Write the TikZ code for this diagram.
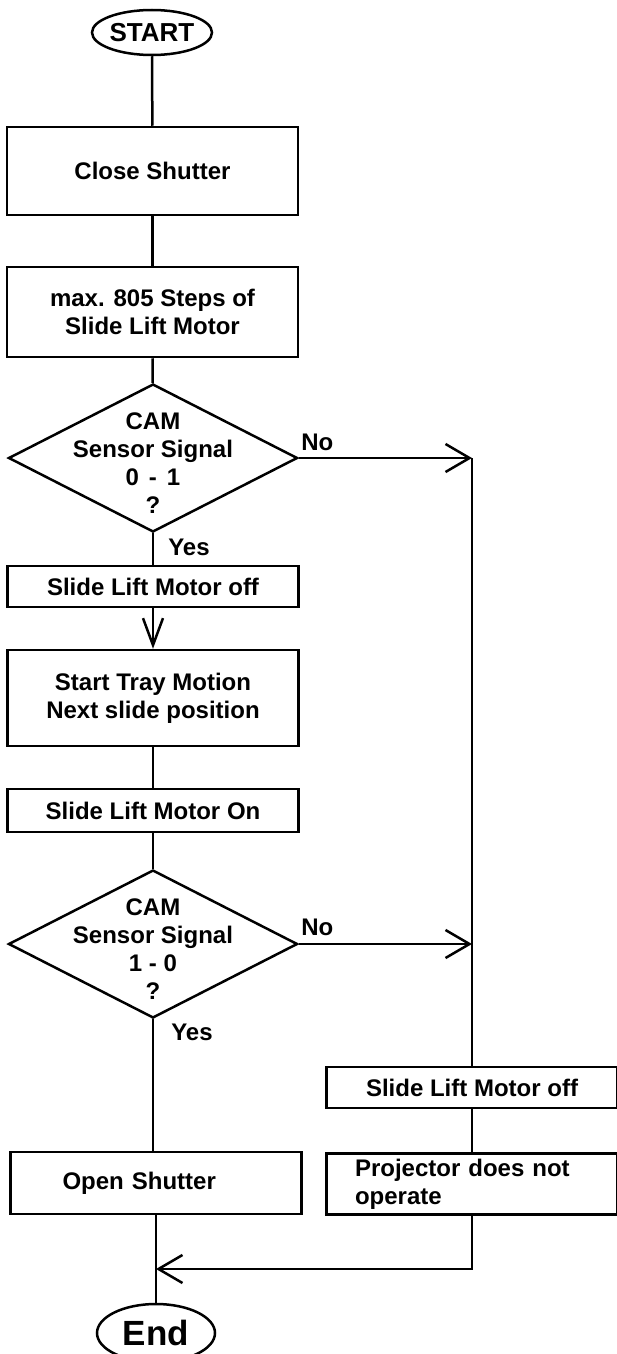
\documentclass[tikz,border=0pt]{standalone}
\usepackage{fontspec}
\setmainfont{Liberation Sans}
\usetikzlibrary{shapes.geometric,arrows.meta}

\begin{document}
\begin{tikzpicture}[x=0.5pt,y=-0.5pt,line width=1.25pt,
  every node/.style={font=\bfseries\fontsize{12}{14}\selectfont},
  procbox/.style={draw,rectangle,minimum width=145.5pt,inner sep=0pt,align=center},
  terminal/.style={draw,ellipse,inner sep=0pt},
  decision/.style={draw,diamond,minimum width=144.5pt,minimum height=74pt,inner sep=0pt},
  answer/.style={anchor=west,inner sep=0pt},
  flow/.style={-{Straight Barb[length=12pt,width=14pt]}}]
  \useasboundingbox (0,0) rectangle (616,1354);

  \node[terminal,minimum width=60pt,minimum height=22.5pt,font=\bfseries\fontsize{13}{15}\selectfont] (start) at (152,32.5) {START};
  \node[procbox,minimum height=44pt] (close) at (152.5,171) {Close Shutter};
  \node[procbox,minimum height=45pt] (steps) at (152.5,312) {max. 805 Steps of\\Slide Lift Motor};
  \node[decision,label={[align=center,yshift=-2.5pt]center:{CAM\\Sensor Signal\\0\hspace{5pt}-\hspace{5pt}1\\?}}] (cam1) at (153,458) {};
  \node[procbox,minimum height=20.5pt] (off1) at (153,586.5) {Slide Lift Motor off};
  \node[procbox,minimum height=48pt] (tray) at (153,698) {Start Tray Motion\\Next slide position};
  \node[procbox,minimum height=21.5pt] (on) at (153,810.5) {Slide Lift Motor On};
  \node[decision,label={[align=center,yshift=-2.5pt]center:{CAM\\Sensor Signal\\1 - 0\\?}}] (cam2) at (153,944) {};
  \node[procbox,minimum height=31pt,text width=93.5pt,align=left] (open) at (156,1183) {Open Shutter};
  \node[terminal,minimum width=59pt,minimum height=29pt,font=\bfseries\fontsize{17.5}{20}\selectfont] (finish) at (156,1333) {End};

  \node[procbox,minimum height=20.5pt] (off2) at (472,1087.5) {Slide Lift Motor off};
  \node[procbox,minimum height=30.5pt,text width=117pt,align=left] (proj) at (472,1184) {Projector does not\\operate};

  \node[answer] (no1) at (300,442) {No};
  \node[answer] (yes1) at (167,547) {Yes};
  \node[answer] (no2) at (300,927) {No};
  \node[answer] (yes2) at (170,1032) {Yes};

  \coordinate (j1) at (cam1.east -| off2.north);
  \coordinate (j2) at (cam2.east -| off2.north);
  \coordinate (j3) at (156,1269);

  \draw (start) -- (close);
  \draw (close) -- (steps);
  \draw (steps) -- (cam1);
  \draw (cam1) -- (off1);
  \draw[-{Straight Barb[length=13.5pt,width=10pt]}] (off1) -- (tray);
  \draw (tray) -- (on);
  \draw (on) -- (cam2);
  \draw (cam2.south) -- (cam2.south |- open.north);
  \draw (open) -- (finish);

  \draw[flow] (cam1.east) -- (j1);
  \draw[flow] (cam2.east) -- (j2);
  \draw (j1) -- (off2.north);
  \draw (off2) -- (proj);
  \draw[flow] (proj.south) |- (j3);
\end{tikzpicture}
\end{document}
